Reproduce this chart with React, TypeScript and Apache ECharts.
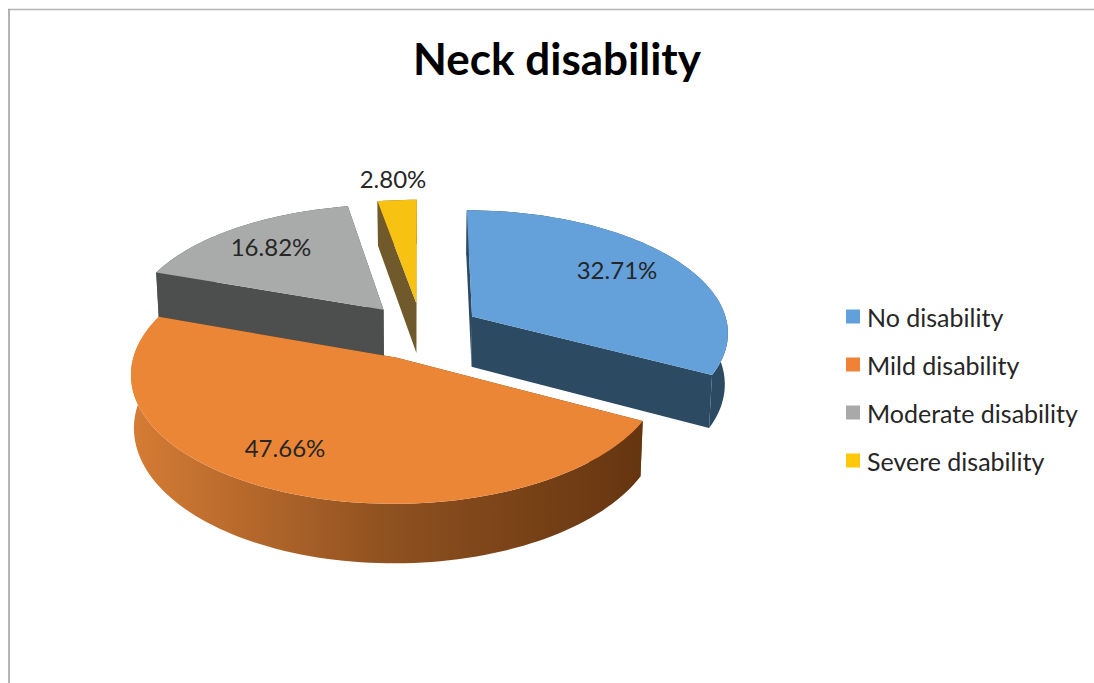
import React, { useEffect, useRef } from "react";
import * as echarts from "echarts";

const titleText = "Neck disability";
const categories = ["No disability", "Mild disability", "Moderate disability", "Severe disability"];
const shares = [32.71, 47.66, 16.82, 2.8];
const topColors = ["#64a0da", "#ec8637", "#a9abaa", "#f8c212"];
const faceColors = ["#2c4a62", "#6b3a12", "#4d4f4e", "#70592a"];
const legendColors = ["#62a0dc", "#ef8237", "#a9a9a9", "#ffc80a"];
// Back slices are painted first so the nearer ones overlap them.
const paintOrder = [3, 2, 0, 1];
const labelAnchors = [
  [617, 269],
  [285, 447],
  [271, 246],
  [393, 178],
];

// Camera and solid of the tilted pie, in pixels per unit radius.
const view = { cx: 421.5, cy: 331, a: 257, b: 122, depth: 8.47, explode: 0.233, wall: 51, taper: 0.0002 };
const FONT = "Lato";
const total = shares.reduce((s, v) => s + v, 0);

// Lower points pull slightly toward the centre line, as vertical edges do when seen from above.
const project = (x: number, y: number, drop: number) => {
  const s = view.depth / (view.depth - y);
  return [view.cx + x * view.a * s * (1 - view.taper * drop), view.cy + (y * view.b + drop) * s];
};

const sliceRange = (i: number) => {
  const before = shares.slice(0, i).reduce((s, v) => s + v, 0);
  return [(before / total) * Math.PI * 2, ((before + shares[i]) / total) * Math.PI * 2];
};

const arcPoints = (ox: number, oy: number, a0: number, a1: number, drop: number) => {
  const n = Math.max(4, Math.ceil((a1 - a0) / 0.03));
  const pts: number[][] = [];
  for (let k = 0; k <= n; k++) {
    const t = a0 + ((a1 - a0) * k) / n;
    pts.push(project(ox + Math.sin(t), oy - Math.cos(t), drop));
  }
  return pts;
};

const renderSlice = (i: number) => (_params: any, api: any) => {
  const value = api.value(0);
  const [a0] = sliceRange(i);
  const a1 = a0 + (value / total) * Math.PI * 2;
  const mid = (a0 + a1) / 2;
  const ox = view.explode * Math.sin(mid);
  const oy = -view.explode * Math.cos(mid);
  const apex = project(ox, oy, 0);
  const apexLow = project(ox, oy, view.wall);
  const rim = arcPoints(ox, oy, a0, a1, 0);
  const rimLow = arcPoints(ox, oy, a0, a1, view.wall);
  const wallFill =
    i === 1
      ? new echarts.graphic.LinearGradient(0, 0, 1, 0, [
          { offset: 0, color: "#d67c35" },
          { offset: 0.5, color: "#8f5120" },
          { offset: 1, color: "#653510" },
        ])
      : faceColors[i];
  const flat = (points: number[][], fill: any) => ({
    type: "polygon",
    shape: { points },
    style: { fill, stroke: "none" },
  });
  return {
    type: "group",
    children: [
      flat([apex, rim[0], rimLow[0], apexLow], faceColors[i]),
      flat([apex, rim[rim.length - 1], rimLow[rimLow.length - 1], apexLow], faceColors[i]),
      flat([...rim, ...rimLow.slice().reverse()], wallFill),
      flat([apex, ...rim], topColors[i]),
      {
        type: "text",
        z2: 10,
        style: {
          text: value.toFixed(2) + "%",
          x: labelAnchors[i][0],
          y: labelAnchors[i][1],
          fill: "#262626",
          fontFamily: FONT,
          fontSize: 24,
          textAlign: "center",
          textVerticalAlign: "middle",
        },
      },
    ],
  };
};

export default function App() {
  const ref = useRef<HTMLDivElement>(null);
  useEffect(() => {
    document.body.style.margin = "0";
    const chart = echarts.init(ref.current!, undefined, { renderer: "svg" });
    chart.setOption({
      animation: false,
      backgroundColor: "#ffffff",
      title: {
        text: titleText,
        left: 552,
        top: 31,
        textAlign: "center",
        textStyle: { fontFamily: FONT, fontSize: 44, fontWeight: "bold", color: "#000000" },
      },
      legend: {
        orient: "vertical",
        left: 841,
        top: 299,
        itemWidth: 14,
        itemHeight: 14,
        itemGap: 23,
        icon: "rect",
        data: categories,
        selectedMode: false,
        textStyle: { fontFamily: FONT, fontSize: 25, color: "#262626", padding: [0, 0, 0, 2] },
      },
      graphic: [
        { type: "line", shape: { x1: 8, y1: 9.5, x2: 1094, y2: 9.5 }, style: { stroke: "#b4b4b4", lineWidth: 1.5 } },
        { type: "line", shape: { x1: 9, y1: 9, x2: 9, y2: 683 }, style: { stroke: "#9c9c9c", lineWidth: 1.5 } },
      ],
      series: paintOrder.map((i) => ({
        type: "custom",
        name: categories[i],
        coordinateSystem: "none",
        itemStyle: { color: legendColors[i] },
        renderItem: renderSlice(i),
        data: [[shares[i]]],
      })),
    });
    return () => chart.dispose();
  }, []);
  return <div ref={ref} style={{ position: "absolute", left: 0, top: 0, width: 1094, height: 683 }} />;
}
